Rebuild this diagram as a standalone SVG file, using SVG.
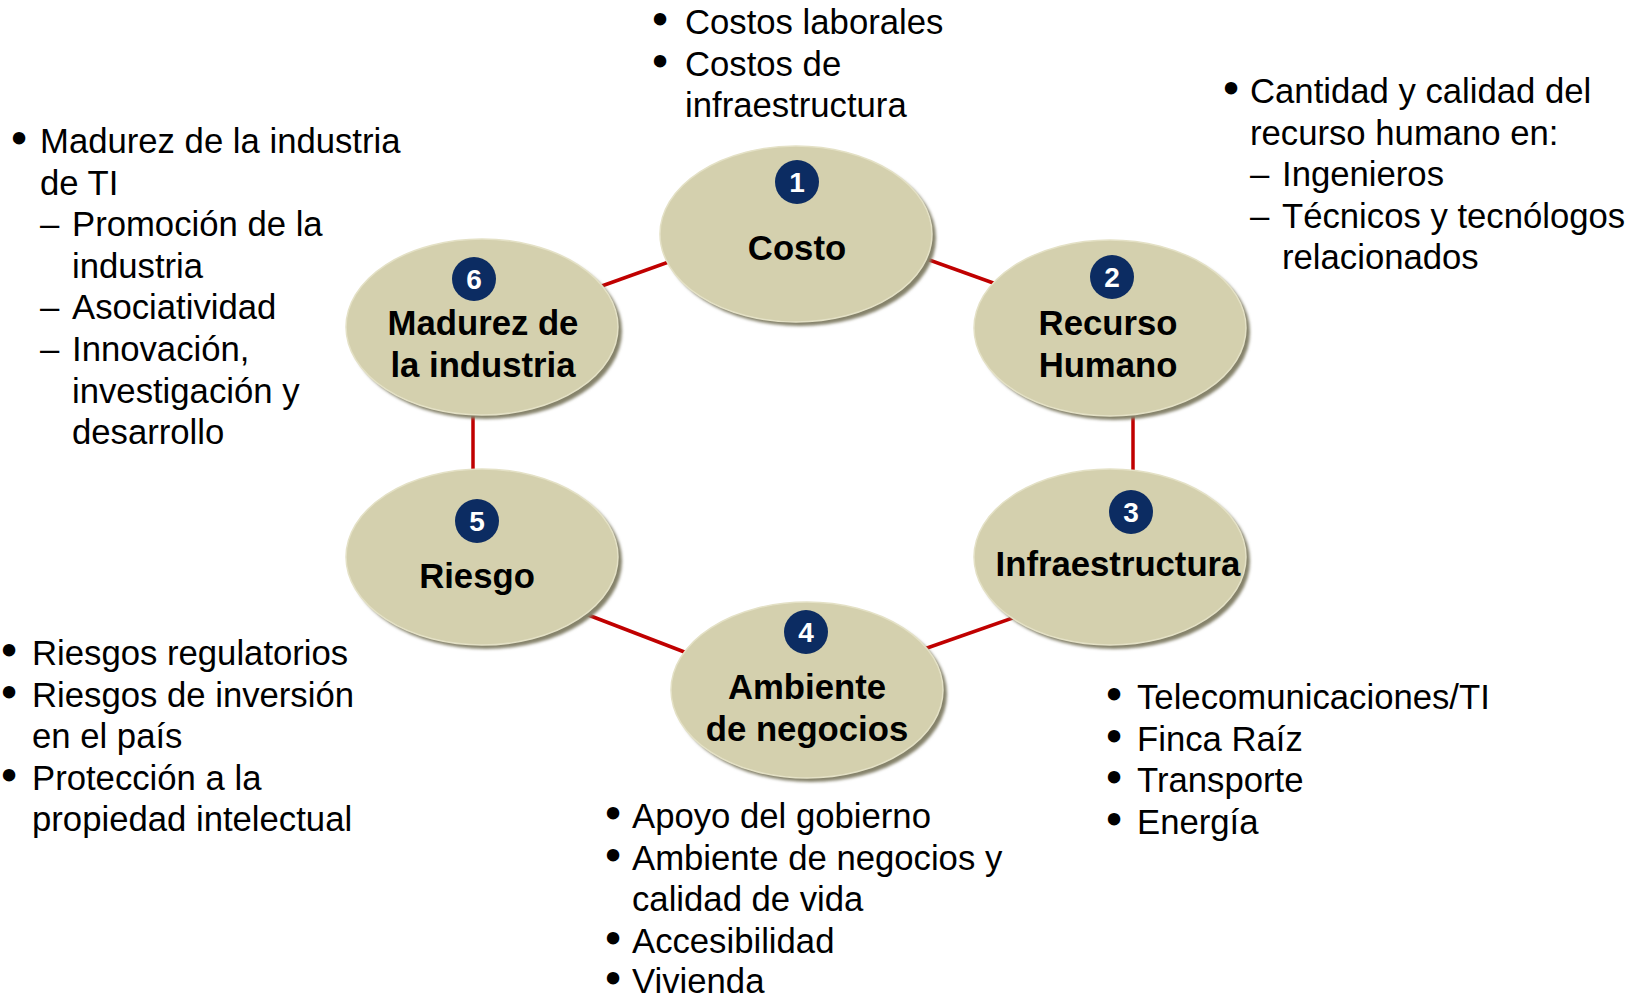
<svg xmlns="http://www.w3.org/2000/svg" width="1639" height="996" viewBox="0 0 1639 996">
<defs>
<style>
.t{font-family:"Liberation Sans",Arial,sans-serif;font-size:34.7px;fill:#000}
.bu{font-family:"Liberation Sans",Arial,sans-serif;font-size:34.7px;fill:#000;stroke:#000;stroke-width:3}
.n{font-family:"Liberation Sans",Arial,sans-serif;font-size:34.7px;font-weight:bold;fill:#000;text-anchor:middle}
.num{font-family:"Liberation Sans",Arial,sans-serif;font-size:28px;font-weight:bold;fill:#fff;text-anchor:middle}
.sh{fill:#85826a}
.el{fill:#d4d0ae;stroke:#e4e1c6;stroke-width:1.5}
.bd{fill:#0c2c62}
.c{stroke:#c00000;stroke-width:3.5;fill:none}
</style>
<filter id="blur" x="-10%" y="-10%" width="120%" height="120%"><feGaussianBlur stdDeviation="1.5"/></filter>
</defs>
<rect width="1639" height="996" fill="#fff"/>
<g id="connectors">
<line class="c" x1="910" y1="253" x2="1010" y2="289"/>
<line class="c" x1="688" y1="255" x2="585" y2="292"/>
<line class="c" x1="473" y1="400" x2="473" y2="485"/>
<line class="c" x1="1133" y1="400" x2="1133" y2="485"/>
<line class="c" x1="570" y1="608" x2="700" y2="658"/>
<line class="c" x1="910" y1="654" x2="1030" y2="612"/>
</g>
<g id="node1">
<ellipse class="sh" cx="800" cy="238" rx="136" ry="88" filter="url(#blur)"/>
<ellipse class="el" cx="796" cy="234" rx="136" ry="88"/>
<circle class="bd" cx="797" cy="182" r="22"/>
<text class="num" x="797" y="192">1</text>
<text class="n" x="797" y="260">Costo</text>
</g>
<g id="node2">
<ellipse class="sh" cx="1114" cy="332" rx="136" ry="88" filter="url(#blur)"/>
<ellipse class="el" cx="1110" cy="328" rx="136" ry="88"/>
<circle class="bd" cx="1112" cy="277" r="22"/>
<text class="num" x="1112" y="287">2</text>
<text class="n" x="1108" y="335">Recurso</text>
<text class="n" x="1108" y="377">Humano</text>
</g>
<g id="node3">
<ellipse class="sh" cx="1114" cy="561" rx="136" ry="88" filter="url(#blur)"/>
<ellipse class="el" cx="1110" cy="557" rx="136" ry="88"/>
<circle class="bd" cx="1131" cy="512" r="22"/>
<text class="num" x="1131" y="522">3</text>
<text class="n" x="1118" y="576">Infraestructura</text>
</g>
<g id="node4">
<ellipse class="sh" cx="811" cy="694" rx="136" ry="88" filter="url(#blur)"/>
<ellipse class="el" cx="807" cy="690" rx="136" ry="88"/>
<circle class="bd" cx="806" cy="632" r="22"/>
<text class="num" x="806" y="642">4</text>
<text class="n" x="807" y="699">Ambiente</text>
<text class="n" x="807" y="741">de negocios</text>
</g>
<g id="node5">
<ellipse class="sh" cx="486" cy="561" rx="136" ry="88" filter="url(#blur)"/>
<ellipse class="el" cx="482" cy="557" rx="136" ry="88"/>
<circle class="bd" cx="477" cy="521" r="22"/>
<text class="num" x="477" y="531">5</text>
<text class="n" x="477" y="588">Riesgo</text>
</g>
<g id="node6">
<ellipse class="sh" cx="486" cy="331" rx="136" ry="88" filter="url(#blur)"/>
<ellipse class="el" cx="482" cy="327" rx="136" ry="88"/>
<circle class="bd" cx="474" cy="279" r="22"/>
<text class="num" x="474" y="289">6</text>
<text class="n" x="483" y="335">Madurez de</text>
<text class="n" x="483" y="377">la industria</text>
</g>
<g id="text-costo">
<text class="bu" x="654" y="31">•</text><text class="t" x="685" y="34">Costos laborales</text>
<text class="bu" x="654" y="72.6">•</text><text class="t" x="685" y="75.6">Costos de</text>
<text class="t" x="685" y="117.2">infraestructura</text>
</g>
<g id="text-recurso">
<text class="bu" x="1225" y="100">•</text><text class="t" x="1250" y="103">Cantidad y calidad del</text>
<text class="t" x="1250" y="144.6">recurso humano en:</text>
<text class="t" x="1250" y="186.2">–</text><text class="t" x="1282" y="186.2">Ingenieros</text>
<text class="t" x="1250" y="227.8">–</text><text class="t" x="1282" y="227.8">Técnicos y tecnólogos</text>
<text class="t" x="1282" y="269.4">relacionados</text>
</g>
<g id="text-madurez">
<text class="bu" x="13" y="150">•</text><text class="t" x="40" y="153">Madurez de la industria</text>
<text class="t" x="40" y="194.6">de TI</text>
<text class="t" x="40" y="236.2">–</text><text class="t" x="72" y="236.2">Promoción de la</text>
<text class="t" x="72" y="277.8">industria</text>
<text class="t" x="40" y="319.4">–</text><text class="t" x="72" y="319.4">Asociatividad</text>
<text class="t" x="40" y="361">–</text><text class="t" x="72" y="361">Innovación,</text>
<text class="t" x="72" y="402.6">investigación y</text>
<text class="t" x="72" y="444.2">desarrollo</text>
</g>
<g id="text-riesgo">
<text class="bu" x="3" y="662">•</text><text class="t" x="32" y="665">Riesgos regulatorios</text>
<text class="bu" x="3" y="703.6">•</text><text class="t" x="32" y="706.6">Riesgos de inversión</text>
<text class="t" x="32" y="748.2">en el país</text>
<text class="bu" x="3" y="786.8">•</text><text class="t" x="32" y="789.8">Protección a la</text>
<text class="t" x="32" y="831.4">propiedad intelectual</text>
</g>
<g id="text-infra">
<text class="bu" x="1108" y="706">•</text><text class="t" x="1137" y="709">Telecomunicaciones/TI</text>
<text class="bu" x="1108" y="747.6">•</text><text class="t" x="1137" y="750.6">Finca Raíz</text>
<text class="bu" x="1108" y="789.2">•</text><text class="t" x="1137" y="792.2">Transporte</text>
<text class="bu" x="1108" y="830.8">•</text><text class="t" x="1137" y="833.8">Energía</text>
</g>
<g id="text-ambiente">
<text class="bu" x="607" y="825">•</text><text class="t" x="632" y="828">Apoyo del gobierno</text>
<text class="bu" x="607" y="866.6">•</text><text class="t" x="632" y="869.6">Ambiente de negocios y</text>
<text class="t" x="632" y="911.2">calidad de vida</text>
<text class="bu" x="607" y="949.8">•</text><text class="t" x="632" y="952.8">Accesibilidad</text>
<text class="bu" x="607" y="990">•</text><text class="t" x="632" y="993">Vivienda</text>
</g>
</svg>
